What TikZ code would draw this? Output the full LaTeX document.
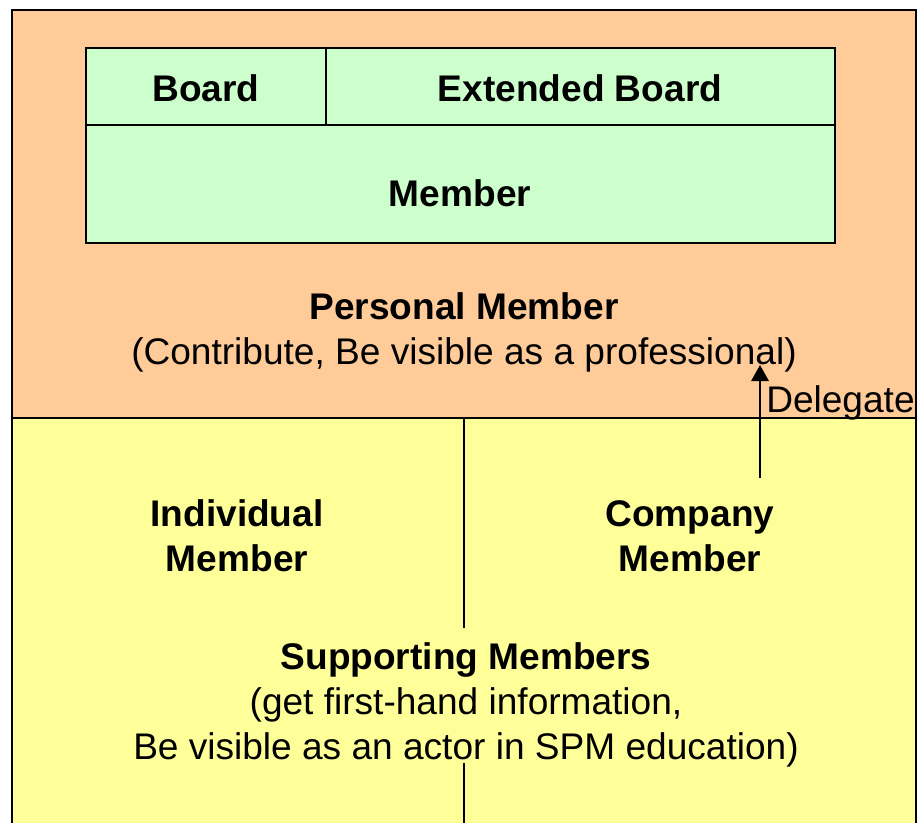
\documentclass[tikz,border=0pt]{standalone}
\usepackage{fontspec}
\setmainfont{Liberation Sans}
\usetikzlibrary{arrows.meta}
\definecolor{peach}{HTML}{FFCC99}
\definecolor{mint}{HTML}{CCFFCC}
\definecolor{lemon}{HTML}{FFFF99}
\tikzset{
  txt/.style={font=\fontsize{27.8}{33.75}\selectfont, align=center, anchor=base, inner sep=0pt},
  btxt/.style={txt, font=\fontsize{27.8}{33.75}\selectfont\bfseries},
  cell/.style={draw=black, fill=mint, line width=1.1pt},
  area/.style={draw=black, line width=1.5pt},
}
\begin{document}
\begin{tikzpicture}[x=0.75pt,y=-0.75pt]
\useasboundingbox (0,0) rectangle (918,822);
\clip (0,0) rectangle (918,822);
\fill[white] (0,0) rectangle (918,822);
% areas
\draw[area, fill=peach] (12,10) rectangle (916,418);
\draw[area, fill=lemon] (12,418) rectangle (916,840);
\draw[line width=2.2pt] (12,418) -- (916,418);
% green box
\draw[cell] (86,48) rectangle (326,125);
\draw[cell] (326,48) rectangle (835,125);
\draw[cell] (86,125) rectangle (835,243);
\node[btxt] (board) at (206,101) {Board};
\node[btxt] (ext) at (580,101) {Extended Board};
\node[btxt] (member) at (460,206) {Member};
\node[btxt] (personal) at (464,364) {Personal Member\\\mdseries(Contribute, Be visible as a professional)};
% lower area
\node[btxt] (indiv) at (237,571) {Individual\\Member};
\node[btxt] (company) at (690,571) {Company\\Member};
\node[btxt] (support) at (466,759) {Supporting Members\\\mdseries(get first-hand information,\\\mdseries Be visible as an actor in SPM education)};
\coordinate (divtop) at (464,418);
\coordinate (divgapA) at (464,628);
\coordinate (divgapB) at (464,763);
\coordinate (divbot) at (464,830);
\draw[line width=1.5pt] (divtop) -- (divgapA);
\draw[line width=1.5pt] (divgapB) -- (divbot);
% delegate arrow
\coordinate (dstart) at (760,478);
\coordinate (dend) at (760,365);
\draw[line width=1.5pt, -{Triangle[width=13pt,length=12pt]}] (dstart) -- (dend);
\node[txt, anchor=base west] (deleg) at (766,412) {Delegate};
\end{tikzpicture}
\end{document}
